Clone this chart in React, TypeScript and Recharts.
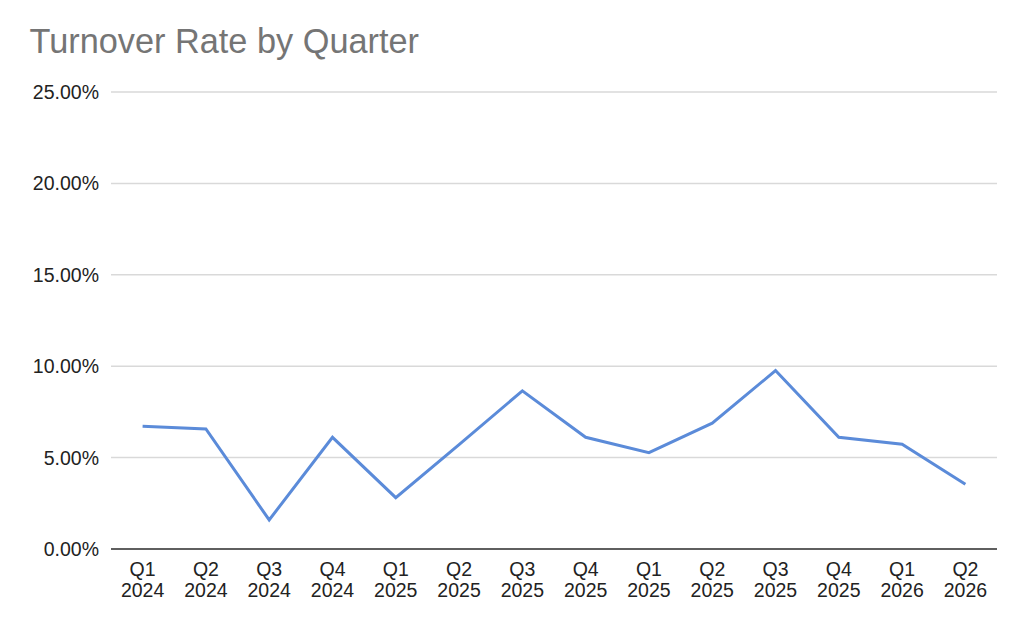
import React from "react";
import { LineChart, Line, XAxis, YAxis, CartesianGrid } from "recharts";

const quarters = ["Q1", "Q2", "Q3", "Q4", "Q1", "Q2", "Q3", "Q4", "Q1", "Q2", "Q3", "Q4", "Q1", "Q2"];
const years = ["2024", "2024", "2024", "2024", "2025", "2025", "2025", "2025", "2025", "2025", "2025", "2025", "2026", "2026"];
const turnover = [6.72, 6.57, 1.59, 6.11, 2.81, 5.71, 8.65, 6.11, 5.27, 6.88, 9.76, 6.11, 5.73, 3.54];
const yTicks = [0, 5, 10, 15, 20, 25];

const data = turnover.map((v, i) => ({ idx: i, rate: v }));

const FONT = "'Liberation Sans', Arial, sans-serif";

const XTick = (props: any) => {
  const { x, y, payload } = props;
  const i = payload.value as number;
  return (
    <g>
      <text x={x} y={y + 27} textAnchor="middle" fontFamily={FONT} fontSize={19.5} fill="#222">
        {quarters[i]}
      </text>
      <text x={x} y={y + 48} textAnchor="middle" fontFamily={FONT} fontSize={19.5} fill="#222">
        {years[i]}
      </text>
    </g>
  );
};

const YTick = (props: any) => {
  const { x, y, payload } = props;
  return (
    <text x={x} y={y} dy={7} textAnchor="end" fontFamily={FONT} fontSize={19.5} fill="#222">
      {`${Number(payload.value).toFixed(2)}%`}
    </text>
  );
};

export default function App() {
  return (
    <div style={{ position: "absolute", left: 0, top: 0, width: 1024, height: 629, background: "#fff" }}>
      <svg width={1024} height={629} style={{ position: "absolute", left: 0, top: 0 }}>
        <text x={29.5} y={53} fontFamily={FONT} fontSize={34.3} fill="#757575">
          Turnover Rate by Quarter
        </text>
      </svg>
      <div style={{ position: "absolute", left: 0, top: 0 }}>
        <LineChart width={1024} height={629} data={data} margin={{ top: 92, right: 27, bottom: 0, left: 0 }}>
          <CartesianGrid horizontal={true} vertical={false} stroke="#d9d9d9" strokeWidth={1.5} />
          <XAxis
            dataKey="idx"
            type="category"
            height={80}
            tickSize={0}
            tickMargin={0}
            padding={{ left: 31.6, right: 31.6 }}
            axisLine={{ stroke: "#333", strokeWidth: 1.5 }}
            tickLine={false}
            tick={<XTick />}
            interval={0}
          />
          <YAxis
            domain={[0, 25]}
            ticks={yTicks}
            width={111}
            tickSize={0}
            tickMargin={12}
            axisLine={false}
            tickLine={false}
            tick={<YTick />}
            interval={0}
          />
          <Line
            type="linear"
            dataKey="rate"
            stroke="#5b8bd9"
            strokeWidth={3}
            dot={false}
            isAnimationActive={false}
          />
        </LineChart>
      </div>
    </div>
  );
}
